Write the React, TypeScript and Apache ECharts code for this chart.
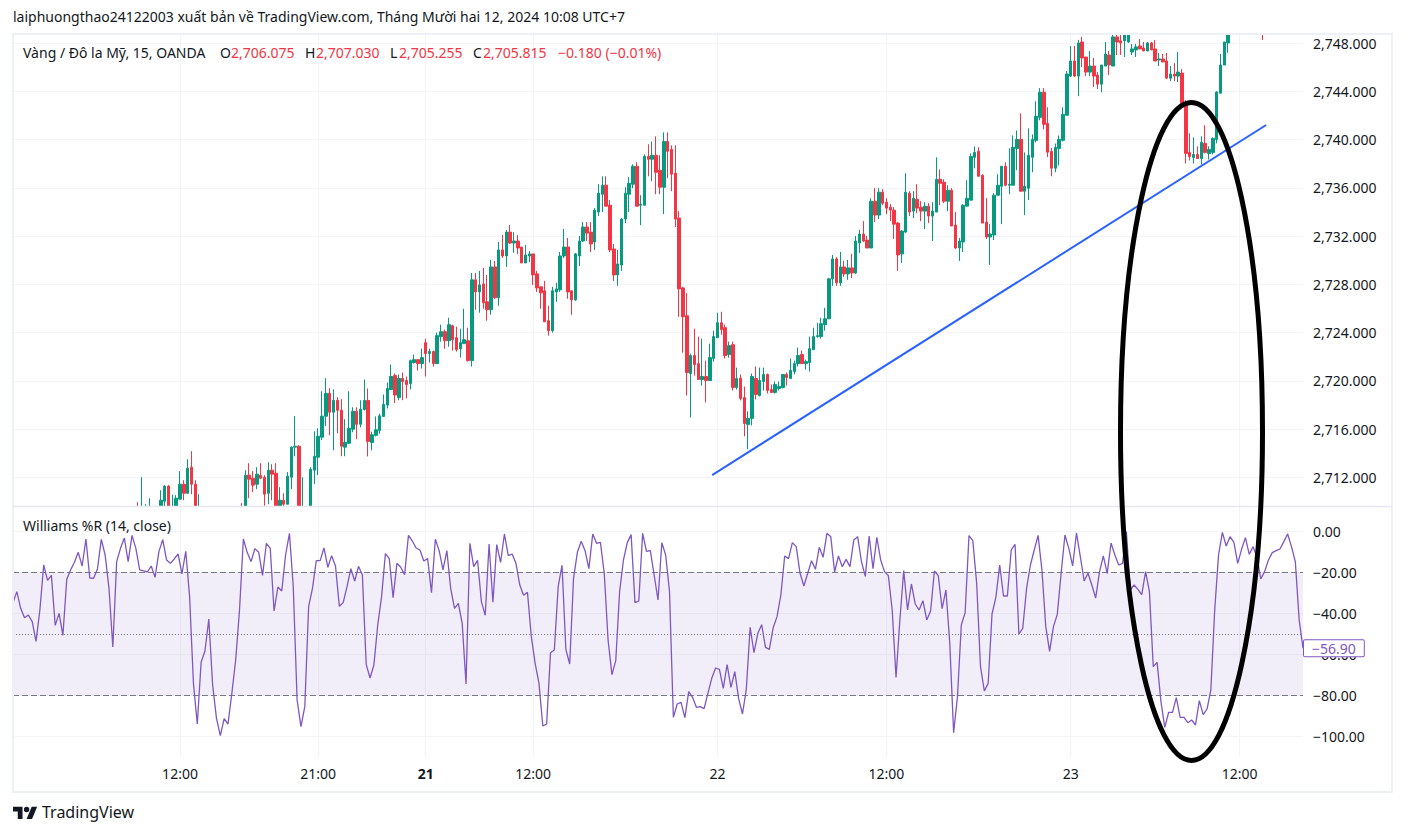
import React, { useEffect, useRef } from "react";
import * as echarts from "echarts";

const headerText = "laiphuongthao24122003 xuất bản về TradingView.com, Tháng Mười hai 12, 2024 10:08 UTC+7";
const symbolText = "Vàng / Đô la Mỹ, 15, OANDA";
const ohlcLetters = ["O", "H", "L", "C"];
const ohlcValues = ["2,706.075", "2,707.030", "2,705.255", "2,705.815"];
const changeText = "−0.180 (−0.01%)";
const indicatorText = "Williams %R (14, close)";
const lastWilliamsText = "−56.90";

const priceTicks = [2712, 2716, 2720, 2724, 2728, 2732, 2736, 2740, 2744, 2748];
const williamsTicks = [-100, -80, -60, -40, -20, 0];
const timeTickBars = [43, 79, 107, 135, 183, 227, 275, 319];
const timeTickLabels = ["12:00", "21:00", "21", "12:00", "22", "12:00", "23", "12:00"];
const barCount = 336;

// [open, close, low, high] from bar 32 onward; null = bar lies outside the visible price range
const candlesBeforeRally: (number[] | null)[] = [
  [2708.9,2709.2,2708.5,2709.94],[2709.2,2708.8,2708.5,2712.01],[2709.2,2708.8,2708.5,2709.77],[2708.8,2709.3,2708.5,2710.27],null,null,
  [2709,2710.10,2708.8,2710.93],[2710.02,2711.27,2709,2711.35],[2711.27,2709,2708.8,2711.35],[2708.9,2709.3,2708.5,2710.57],[2709,2710.27,2708.8,2710.52],
  [2710.19,2711.43,2710.19,2712.51],[2711.43,2710.68,2710.10,2711.76],[2710.68,2712.76,2710.68,2713.50],[2712.84,2711.43,2710.60,2714.17],[2711.43,2709,2708.8,2711.76],[2709.3,2708.9,2708.5,2710.60],
  null,null,null,null,null,null,null,null,null,null,
  [2708.9,2709.4,2708.5,2709.86],[2709,2712.18,2708.8,2712.59],[2712.18,2711.85,2710.27,2713.17],[2711.93,2711.35,2710.77,2712.51],[2711.43,2712.26,2711.02,2712.84],[2712.18,2711.93,2711.85,2713.17],
  [2712.01,2710.60,2709.64,2712.18],[2710.68,2712.59,2709.77,2713.25],[2712.59,2712.26,2710.10,2713.09],[2712.34,2709,2708.8,2713.17],[2709,2710.10,2708.8,2711.18],[2710.10,2709.77,2709,2710.68],
  [2709.77,2712.09,2709.77,2712.43],[2712.01,2714.50,2711.02,2714.58],[2714.50,2714.58,2713.75,2717.07],[2714.58,2709,2708.8,2714.66],[2709.4,2709,2708.8,2712.01],null,
  [2709,2712.67,2708.8,2712.84],[2712.59,2713.75,2711.43,2715.82],[2713.67,2715.41,2712.18,2716.07],[2715.33,2717.07,2715.08,2719.14],[2717.07,2718.97,2716.24,2720.22],[2718.97,2717.40,2715.49,2719.39],
  [2717.40,2718.39,2714.25,2719.30],[2718.39,2717.56,2715.66,2718.64],[2717.56,2714.58,2713.75,2718.48],[2714.50,2714.91,2713.75,2716.82],[2714.83,2716.07,2714.75,2719.14],[2715.99,2717.48,2715.74,2717.81],
  [2717.48,2716.40,2715.16,2717.81],[2716.40,2717.65,2716.15,2718.39],
];
const candlesFirstRally: number[][] = [
  [2717.63,2718.38,2717.55,2720.11],[2718.38,2714.98,2713.73,2719.37],[2714.89,2715.53,2714.23,2715.78],[2715.48,2715.94,2715.39,2717.05],[2715.89,2717.10,2715.61,2717.27],
  [2717.05,2718.05,2717.00,2718.87],[2717.99,2719.37,2717.71,2719.86],[2719.28,2720.36,2719.28,2721.35],[2720.44,2718.82,2718.16,2720.61],[2718.62,2720.20,2718.40,2720.53],
  [2720.20,2719.95,2718.40,2720.69],[2720.03,2719.70,2718.54,2720.36],[2719.78,2721.68,2719.28,2721.76],[2721.52,2721.76,2721.43,2722.18],[2721.76,2721.43,2720.86,2721.76],
  [2721.43,2721.93,2721.02,2722.67],[2723.17,2722.26,2720.36,2723.50],[2722.26,2722.43,2721.52,2722.67],[2722.43,2721.43,2721.19,2722.51],[2721.43,2723.75,2721.43,2724.00],
  [2723.67,2724.08,2723.25,2724.66],[2724.08,2723.33,2722.67,2724.25],[2723.33,2724.66,2722.84,2725.23],[2724.58,2723.42,2722.51,2724.66],[2723.58,2722.59,2722.43,2724.49],
  [2722.67,2723.17,2721.93,2724.33],[2723.09,2723.42,2723.09,2725.98],[2723.33,2721.68,2721.60,2724.41],[2721.68,2728.38,2721.19,2728.95],[2728.38,2727.38,2725.90,2728.95],
  [2727.38,2727.96,2725.65,2729.12],[2728.04,2726.48,2725.98,2729.37],[2726.56,2725.90,2724.99,2728.79],[2725.90,2729.45,2725.48,2730.03],[2729.45,2726.89,2726.81,2729.95],
  [2726.89,2730.86,2726.23,2731.52],[2730.86,2730.36,2730.20,2732.10],[2730.36,2732.34,2729.45,2732.51],[2732.34,2731.43,2731.35,2732.92],[2731.43,2731.60,2730.61,2732.34],
  [2731.60,2731.02,2730.53,2732.10],[2731.10,2729.78,2729.78,2731.10],[2729.78,2730.44,2729.78,2731.27],[2730.36,2730.53,2729.86,2730.77],[2730.53,2728.79,2727.96,2730.53],
  [2728.87,2727.71,2727.38,2729.12],[2727.80,2727.30,2725.98,2727.80],[2727.47,2724.90,2724.90,2728.29],[2724.99,2724.16,2723.75,2726.23],[2724.16,2727.47,2724.00,2727.80],
  [2727.38,2727.63,2726.56,2728.13],[2727.55,2730.36,2727.38,2730.69],[2730.36,2731.10,2730.20,2732.59],[2731.10,2727.38,2726.81,2731.85],[2727.47,2726.72,2725.48,2727.47],
  [2726.72,2730.53,2726.64,2730.61],[2730.36,2731.60,2729.53,2732.01],[2731.60,2732.76,2731.52,2733.17],[2732.76,2732.26,2731.60,2733.17],[2732.34,2731.35,2730.69,2733.17],
  [2731.52,2734.16,2730.86,2734.33],[2734.00,2735.57,2733.67,2736.31],[2735.48,2736.23,2734.00,2736.97],[2736.23,2734.49,2734.49,2736.97],[2734.57,2730.86,2730.69,2734.99],
  [2730.94,2728.79,2728.29,2731.35],[2728.79,2729.70,2727.88,2730.86],[2729.61,2733.42,2729.12,2733.50],[2733.42,2735.57,2733.09,2736.06],[2735.48,2736.39,2734.00,2736.89],
  [2736.31,2737.80,2735.98,2737.96],[2737.80,2734.49,2734.49,2738.13],[2734.57,2734.66,2732.92,2735.40],[2734.57,2738.62,2734.57,2738.79],[2738.62,2738.38,2736.97,2739.62],
  [2738.38,2738.71,2736.56,2739.86],[2738.71,2737.30,2735.48,2740.28],[2737.47,2736.06,2735.48,2738.71],[2736.06,2739.86,2733.83,2740.61],[2739.86,2739.04,2736.81,2740.61],
  [2739.20,2737.14,2735.73,2739.53],[2737.22,2733.42,2732.76,2739.53],[2733.50,2727.63,2725.32,2734.08],[2727.71,2725.32,2722.34,2727.80],[2725.40,2720.69,2718.79,2727.30],
  [2720.61,2722.10,2716.97,2722.26],[2722.10,2721.35,2720.44,2724.33],[2721.43,2720.11,2720.11,2723.67],[2720.11,2720.36,2719.61,2723.50],[2720.36,2720.03,2718.21,2721.68],
  [2720.03,2721.93,2720.03,2723.09],
];
const candlesSecondRally: number[][] = [
  [2721.85,2723.67,2721.60,2724.16],[2723.58,2724.82,2723.58,2725.65],[2724.82,2724.25,2723.83,2725.73],[2724.41,2722.10,2721.85,2724.66],[2722.18,2722.92,2721.93,2723.25],
  [2723.00,2719.45,2719.20,2723.25],[2719.45,2720.20,2719.28,2721.10],[2720.20,2718.54,2718.38,2720.53],[2718.62,2716.47,2715.40,2719.53],[2716.39,2716.89,2714.33,2717.47],
  [2716.89,2720.36,2716.31,2720.61],[2720.20,2718.87,2718.46,2721.19],[2718.79,2720.03,2718.71,2721.10],[2719.95,2720.53,2719.20,2721.10],[2720.53,2719.20,2718.95,2720.61],
  [2719.28,2719.04,2719.04,2719.70],[2719.04,2719.70,2718.95,2719.95],[2719.37,2719.53,2719.20,2719.95],[2719.45,2720.53,2719.37,2720.53],[2720.53,2720.28,2719.61,2720.69],
  [2720.20,2720.86,2720.20,2721.85],[2720.77,2721.43,2720.53,2721.68],[2721.43,2722.10,2721.19,2722.76],[2722.18,2721.43,2721.43,2722.51],[2721.43,2721.60,2720.94,2721.76],
  [2721.52,2722.67,2720.77,2723.67],[2722.59,2723.67,2722.59,2724.41],[2723.67,2723.75,2723.58,2724.82],[2723.67,2724.74,2723.50,2725.23],[2724.66,2725.15,2724.16,2726.06],
  [2725.15,2728.46,2725.15,2728.54],[2728.46,2730.11,2727.88,2730.44],[2730.11,2728.13,2727.88,2730.28],[2728.13,2729.45,2727.88,2730.69],[2729.45,2728.87,2728.62,2729.95],
  [2728.87,2729.37,2728.38,2730.03],[2729.37,2728.95,2728.54,2730.53],[2728.95,2731.60,2728.87,2732.01],[2731.43,2732.18,2730.61,2732.51],[2732.18,2731.60,2731.52,2733.25],
  [2731.68,2731.02,2731.02,2732.01],[2731.02,2734.90,2731.02,2735.15],[2734.90,2733.75,2733.17,2735.98],[2733.75,2735.65,2733.42,2735.98],[2735.65,2734.74,2734.57,2735.90],
  [2734.82,2734.33,2733.83,2735.15],[2734.41,2734.16,2733.25,2734.66],[2734.16,2733.00,2731.77,2734.41],[2733.09,2730.44,2729.12,2733.17],[2730.53,2732.43,2729.78,2732.51],
  [2732.34,2735.65,2732.26,2737.22],[2735.57,2734.00,2733.67,2735.73],[2734.08,2735.15,2733.50,2735.73],[2735.07,2734.33,2733.91,2736.31],[2734.41,2734.08,2733.25,2734.90],
  [2734.08,2734.49,2732.59,2734.82],[2734.49,2733.67,2733.09,2734.74],[2733.67,2734.08,2731.60,2734.82],[2734.00,2736.72,2734.00,2738.54],[2736.72,2736.39,2734.57,2737.55],
  [2736.47,2734.90,2734.74,2736.72],[2734.90,2735.81,2734.08,2736.23],[2735.81,2732.84,2732.84,2735.98],[2732.92,2731.02,2730.94,2734.00],[2731.02,2731.60,2729.95,2731.85],
  [2731.52,2734.57,2730.69,2734.66],[2734.49,2735.15,2734.49,2736.64],[2734.99,2738.62,2734.99,2738.87],[2738.54,2738.95,2737.63,2739.45],[2739.04,2736.97,2736.97,2739.37],
  [2737.05,2733.09,2733.09,2737.14],[2733.17,2731.93,2731.77,2735.15],[2731.93,2732.18,2729.61,2733.00],[2732.10,2735.40,2731.68,2735.57],[2735.40,2736.23,2735.40,2737.14],
  [2736.14,2737.80,2733.00,2737.80],[2737.80,2736.23,2736.14,2738.13],[2736.23,2736.31,2735.48,2739.28],[2736.23,2739.37,2736.23,2740.36],[2739.28,2740.03,2737.47,2740.77],
  [2740.03,2735.73,2735.73,2742.19],[2735.73,2736.14,2733.75,2738.95],[2735.98,2738.71,2734.99,2740.94],[2738.54,2740.03,2737.30,2740.44],[2739.95,2741.94,2739.78,2743.19],
  [2741.86,2743.94,2741.61,2744.28],
];
const candlesFinal: (number[] | null)[] = [
  [2743.94,2741.28,2740.86,2744.28],[2741.36,2738.97,2738.56,2742.69],[2739.03,2737.64,2736.97,2739.31],[2737.64,2739.36,2737.31,2739.69],[2739.28,2740.03,2737.86,2740.36],
  [2739.95,2742.11,2739.86,2742.69],[2742.03,2745.45,2742.03,2745.70],[2745.28,2746.53,2745.20,2747.78],[2746.53,2745.28,2745.20,2747.78],[2745.28,2748.03,2743.61,2748.28],
  [2748.11,2746.78,2746.03,2748.53],[2746.86,2745.61,2745.28,2746.86],[2745.61,2746.11,2745.28,2747.36],[2746.11,2745.28,2744.36,2746.78],[2745.36,2744.61,2744.20,2745.61],
  [2744.61,2746.20,2743.94,2746.20],[2746.11,2747.11,2746.11,2748.11],[2747.03,2746.20,2745.36,2747.36],[2746.11,2748.53,2746.11,2749.00],[2748.53,2748.11,2747.03,2749.00],
  [2748.20,2748.03,2747.03,2749.00],[2748.20,2748.90,2746.86,2749.20],[2748.11,2749.20,2748.03,2749.40],[2747.28,2747.53,2747.03,2747.95],[2747.45,2747.70,2746.86,2747.95],
  [2747.78,2747.53,2747.53,2748.36],[2747.61,2747.36,2747.36,2748.11],[2747.36,2748.03,2747.36,2748.11],[2748.03,2747.45,2747.45,2748.11],[2747.53,2746.53,2746.53,2748.28],
  [2746.61,2746.70,2746.11,2747.20],[2746.70,2746.45,2746.45,2747.11],[2746.53,2745.11,2745.03,2747.20],[2745.11,2745.45,2744.86,2746.11],[2745.45,2745.28,2744.86,2746.36],
  [2745.28,2745.61,2744.78,2747.28],[2745.53,2743.00,2743.00,2745.86],[2743.00,2738.86,2738.03,2743.28],[2738.95,2738.61,2738.28,2740.53],[2738.53,2738.78,2738.03,2740.20],
  [2738.78,2738.45,2738.45,2739.45],[2738.45,2739.78,2737.95,2740.28],[2739.70,2738.95,2738.86,2741.20],[2738.86,2739.20,2738.36,2739.45],[2738.95,2740.11,2738.78,2740.20],
  [2740.03,2743.95,2739.70,2744.03],[2743.86,2746.20,2743.86,2747.11],[2746.20,2748.11,2746.20,2748.11],[2748.03,2749.40,2747.20,2749.70],
  null,null,null,null,null,null,null,null,
  [2749.60,2749.30,2748.28,2750.00],[2749.20,2749.70,2748.69,2750.00],
];

const williamsFirstDays = [
  -34.74,-29.38,-37.5,-42.05,-40.75,-44,-53.57,-38.31,-16.4,-23.86,-21.43,-45.78,-39.94,-50.65,-23.38,-18.83,-15.1,-10.23,-16.88,-3.73,
  -22.73,-22.89,-18.34,-3.9,-11.53,-27.76,-56.33,-14.77,-8.28,-3.25,-14.77,-1.95,-8.28,-18.83,-19.32,-19.81,-16.88,-22.4,-9.9,-4.06,
  -13.96,-15.58,-13.47,-11.04,-20.78,-9.74,-31.82,-74.03,-93.83,-63.8,-58.28,-42.7,-74.84,-91.07,-99.51,-91.24,-93.83,-78.9,-62.66,-38.31,
  -3.73,-10.23,-14.77,-8.44,-10.23,-21.43,-5.84,-8.28,-38.8,-27.11,-29.06,-11.53,-0.97,-26.95,-82.14,-95.13,-85.39,-36.69,-27.76,-14.29,
  -14.29,-8.12,-17.53,-11.85,-16.88,-36.53,-34.74,-26.95,-18.18,-24.19,-17.05,-21.27,-64.77,-71.43,-65.1,-45.62,-31.82,-10.88,-13.31,-32.31,
  -15.58,-17.53,-21.1,-1.95,-4.71,-8.12,-9.09,-14.45,-13.31,-29.87,-3.9,-9.42,-18.83,-9.42,-27.76,-37.5,-35.06,-44.81,-74.35,-5.84,
];
const williamsMiddleDays = [
  -17.21,-14.12,-34.25,-40.91,-6.17,-34.58,-6.49,-15.1,-1.3,-11.85,-11.04,-15.58,-26.14,-31.17,-29.71,-51.3,-64.29,-74.03,-94.81,-93.83,
  -59.09,-57.79,-26.95,-16.56,-57.47,-64.61,-22.89,-10.23,-4.87,-9.42,-18.18,-1.3,-5.84,-5.36,-20.45,-52.92,-69.81,-62.99,-29.38,-13.96,
  -5.52,-1.62,-34.74,-33.93,-0.97,-9.74,-9.42,-21.27,-33.44,-5.52,-11.53,-29.38,-90.58,-84.09,-83.28,-90.75,-78.09,-80.84,-85.71,-85.39,
  -86.36,-78.9,-71.59,-66.56,-67.21,-76.46,-64.94,-75.97,-68.34,-81.33,-88.96,-76.95,-46.75,-59.09,-49.68,-45.45,-56.49,-57.47,-46.92,-41.56,
  -31.01,-12.01,-13.31,-5.52,-7.47,-20.45,-26.62,-20.45,-14.29,-18.51,-7.79,-12.66,-0.97,-2.6,-19.81,-12.01,-17.21,-13.64,-17.21,-4.22,
  -2.6,-14.77,-21.92,-2.27,-18.18,-2.92,-13.96,-19.64,-21.59,-38.31,-71.11,-43.18,-19.16,-38.31,-25.65,-35.39,-38.31,
];
const williamsLastDays = [
  -33.77,-43.18,-38.8,-19.32,-21.59,-37.66,-28.57,-54.55,-98.05,-80.52,-45.62,-39.61,-2.11,-4.55,-25.32,-65.91,-77.76,-74.03,-40.26,-32.14,
  -16.4,-31.49,-31.49,-9.09,-6.33,-50,-47.24,-27.76,-16.4,-9.09,-1.95,-18.83,-46.43,-58.44,-46.43,-40.42,-20.45,-1.79,-8.28,-16.88,
  -0.81,-12.34,-24.19,-20.45,-26.14,-32.47,-19.64,-12.01,-20.45,-5.68,-11.53,-16.4,-15.58,-0.16,-28.57,-26.14,-28.25,-30.84,-19.64,-29.38,
  -65.91,-63.8,-82.95,-95.45,-88.15,-88.15,-81.01,-90.58,-90.58,-93.18,-91.88,-94.32,-82.47,-89.29,-86.53,-77.27,-38.31,-11.53,-0.49,-7.14,
  -2.6,-5.36,-15.58,-8.77,-3.08,-11.2,-7.47,-12.34,-23.21,-19.64,-13.96,-10.39,-9.42,-8.6,-5.03,-1.3,-7.47,-14.77,-43.18,-56.9,
];
const trendLineBars = [181.6, 325.9];
const trendLinePrices = [2712.19, 2741.22];

const FONT = "Noto Sans";
const INK = "#131722";
const RED = "#F23645";
const GREEN = "#089981";
const PURPLE = "#7E57C2";
const GRID = "#F3F4F8";
const FRAME = "#EEF0F7";
const PRICE_MIN = 2709.58;
const PRICE_MAX = 2748.77;

echarts.graphic.registerShape(
  "tvLogo",
  echarts.graphic.extendPath("M14 22H7V11H0V4h14v18zM28 22h-8l7.5-18h8L28 22zM20 4a4 4 0 1 1 0 8a4 4 0 0 1 0-8z", {})
);

const fmtPrice = (v: number) =>
  v.toLocaleString("en-US", { minimumFractionDigits: 3, maximumFractionDigits: 3 });
const fmtWilliams = (v: number) => (v < 0 ? "−" + Math.abs(v).toFixed(2) : v.toFixed(2));

export default function App() {
  const ref = useRef<HTMLDivElement>(null);
  useEffect(() => {
    const chart = echarts.init(ref.current!, undefined, { renderer: "svg" });
    const pad = (n: number) => Array.from({ length: n }, () => null);
    const candles = [
      ...pad(32),
      ...candlesBeforeRally,
      ...candlesFirstRally,
      ...candlesSecondRally,
      ...candlesFinal,
    ];
    while (candles.length < barCount) candles.push(null);
    // candlestick marks are not clipped by the grid: hold them to the pane's price range
    const clampPrice = (v: number) => Math.min(PRICE_MAX, Math.max(PRICE_MIN, v));
    const candleData = candles.map((c) => (c ? c.map(clampPrice) : ["-", "-", "-", "-"]));
    const bars = Array.from({ length: barCount }, (_, i) => String(i));
    const williams = [...williamsFirstDays, ...williamsMiddleDays, ...williamsLastDays];
    const isTick = (i: number) => timeTickBars.includes(i);
    const tickSplit = {
      show: true,
      alignWithLabel: true,
      interval: (i: number) => isTick(i),
      lineStyle: { color: GRID, width: 1 },
    };
    const legendY = 45;
    const ohlcX = [220, 305, 390, 473];
    const ohlcValX = [231, 316, 399, 483];
    const txt = (x: number, y: number, text: string, fill: string, fontSize = 14, extra = {}) => ({
      type: "text",
      x,
      y,
      z: 60,
      style: { text, fill, fontFamily: FONT, fontSize, ...extra },
    });
    chart.setOption({
      animation: false,
      backgroundColor: "#ffffff",
      textStyle: { fontFamily: FONT },
      grid: [
        { left: 13, top: 34, width: 1290, height: 472.5 },
        { left: 13, top: 507, width: 1290, height: 250 },
      ],
      xAxis: [
        {
          type: "category", gridIndex: 0, data: bars, boundaryGap: true,
          axisLine: { show: false }, axisTick: { show: false },
          axisLabel: { show: false, interval: (i: number) => isTick(i) },
          splitLine: tickSplit,
        },
        {
          type: "category", gridIndex: 1, data: bars, boundaryGap: true,
          axisLine: { show: false }, axisTick: { show: false },
          axisLabel: {
            show: true,
            interval: (i: number) => isTick(i),
            margin: 9,
            color: INK,
            fontSize: 14,
            fontFamily: FONT,
            hideOverlap: false,
            formatter: (_: string, i: number) => {
              const k = timeTickBars.indexOf(i);
              if (k < 0) return "";
              return timeTickLabels[k] === "21" ? "{b|21}" : timeTickLabels[k];
            },
            rich: { b: { fontWeight: "bold", fontSize: 14, color: INK, fontFamily: FONT } },
          },
          splitLine: tickSplit,
        },
        {
          type: "category", gridIndex: 1, show: false, boundaryGap: false,
          data: williams.map((_, i) => String(i)),
          splitLine: { show: false },
        },
        { type: "value", gridIndex: 0, show: false, min: -0.5, max: barCount - 0.5, splitLine: { show: false } },
      ],
      yAxis: [
        {
          type: "value", gridIndex: 0, position: "right", min: PRICE_MIN, max: PRICE_MAX,
          axisLine: { show: false },
          axisTick: { show: false, customValues: priceTicks },
          axisLabel: {
            customValues: priceTicks, color: INK, fontSize: 14, fontFamily: FONT, margin: 10,
            formatter: (v: number) => fmtPrice(v),
          },
          splitLine: { show: true, lineStyle: { color: GRID, width: 1 } },
        },
        {
          type: "value", gridIndex: 1, position: "right", min: -109.9, max: 11.84,
          axisLine: { show: false },
          axisTick: { show: false, customValues: williamsTicks },
          axisLabel: {
            customValues: williamsTicks, color: INK, fontSize: 14, fontFamily: FONT, margin: 10,
            formatter: (v: number) => fmtWilliams(v),
          },
          splitLine: { show: true, lineStyle: { color: GRID, width: 1 } },
        },
      ],
      series: [
        {
          type: "candlestick", xAxisIndex: 0, yAxisIndex: 0, data: candleData,
          barWidth: 3, clip: true,
          itemStyle: { color: GREEN, color0: RED, borderColor: GREEN, borderColor0: RED, borderWidth: 1 },
          z: 5,
        },
        {
          type: "line", xAxisIndex: 3, yAxisIndex: 0, symbol: "none", z: 6,
          data: trendLineBars.map((b, i) => [b, trendLinePrices[i]]),
          lineStyle: { color: "#2962FF", width: 2 },
        },
        {
          type: "line", xAxisIndex: 2, yAxisIndex: 1, data: williams, symbol: "none", showSymbol: false, z: 6,
          lineStyle: { color: PURPLE, width: 1.3 },
          itemStyle: { color: PURPLE },
          endLabel: {
            show: true, formatter: lastWilliamsText, color: PURPLE, fontSize: 14, fontFamily: FONT,
            backgroundColor: "#ffffff", borderColor: PURPLE, borderWidth: 1, borderRadius: 1,
            padding: [1, 8, 1, 8], distance: 1, align: "left", verticalAlign: "middle",
          },
          markArea: {
            silent: true,
            itemStyle: { color: "rgba(126,87,194,0.1)" },
            data: [[{ yAxis: -20 }, { yAxis: -80 }]],
          },
          markLine: {
            silent: true, symbol: "none", label: { show: false },
            data: [
              { yAxis: -20, lineStyle: { color: "#787B86", type: [6, 3], width: 1 } },
              { yAxis: -80, lineStyle: { color: "#787B86", type: [6, 3], width: 1 } },
              { yAxis: -50, lineStyle: { color: "#787B86", type: [1, 2], width: 1 } },
            ],
          },
        },
      ],
      graphic: [
        { type: "rect", z: 50, silent: true, shape: { x: 13, y: 34, width: 1379, height: 758 }, style: { fill: "none", stroke: FRAME, lineWidth: 2 } },
        { type: "line", z: 50, silent: true, shape: { x1: 13, y1: 506.5, x2: 1392, y2: 506.5 }, style: { stroke: "#E6E8F0", lineWidth: 1.5 } },
        txt(13, 9, headerText, INK, 14),
        txt(23, legendY, symbolText, INK, 14),
        ...ohlcLetters.map((l, i) => txt(ohlcX[i], legendY, l, INK, 14)),
        ...ohlcValues.map((v, i) => txt(ohlcValX[i], legendY, v, RED, 14)),
        txt(558, legendY, changeText, RED, 14),
        txt(23, 518, indicatorText, INK, 14),
        { type: "tvLogo", x: 13, y: 804, scaleX: 0.68, scaleY: 0.68, z: 60, style: { fill: INK } },
        txt(42, 804, "TradingView", INK, 16),
        {
          type: "ellipse", z: 90, silent: true,
          shape: { cx: 1191.5, cy: 431.5, rx: 71, ry: 329 },
          style: { fill: "none", stroke: "#000000", lineWidth: 5 },
        },
      ],
    });
    return () => chart.dispose();
  }, []);
  return <div ref={ref} style={{ position: "fixed", left: 0, top: 0, width: 1406, height: 836, background: "#fff" }} />;
}
